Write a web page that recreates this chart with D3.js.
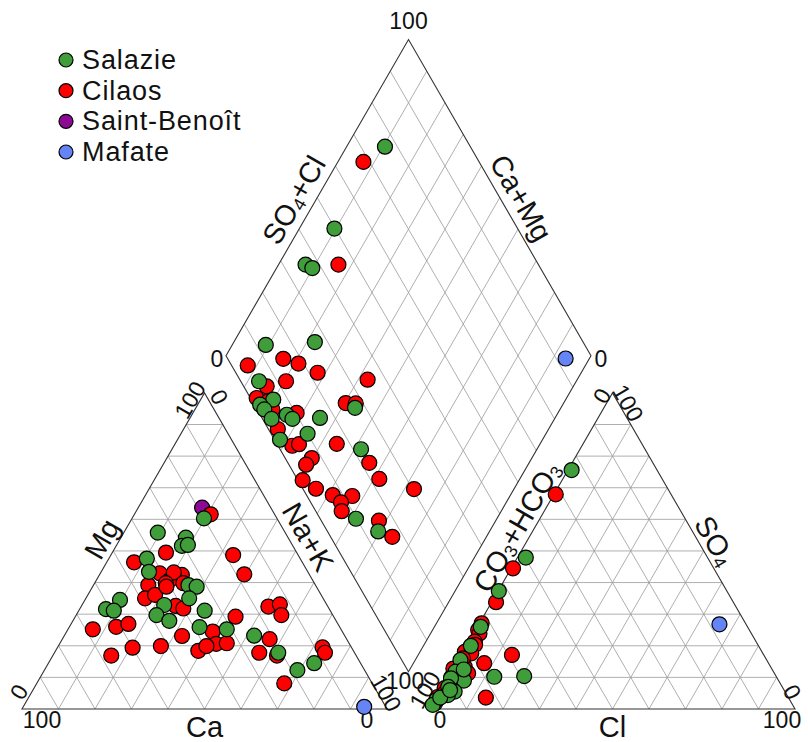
<!DOCTYPE html>
<html><head><meta charset="utf-8">
<script src="https://cdn.jsdelivr.net/npm/d3@7"></script>
<style>
body{margin:0;background:#fff}
text{font-family:"Liberation Sans",Arial,sans-serif;fill:#111}
</style>
</head><body>
<svg id="chart" width="808" height="742"></svg>
<script>
// ---------------- DATA ----------------
const groups = ["Salazie", "Cilaos", "Saint-Benoît", "Mafate"];
const groupColors = ["#3f9d3a", "#ff0000", "#8e0a96", "#6585f7"];

// Cation triangle: [Mg %, Na+K %]
const cationSalazie = [[55.8,9.3],[54.2,17.8],[51.6,18.0],[51.9,19.5],[60.3,19.7],[47.6,10.4],[43.4,13.1],[39.2,26.0],[38.7,28.5],[35.0,28.3],[32.9,22.5],[29.7,22.0],[27.9,26.4],[31.1,34.5],[34.5,9.6],[31.6,7.2],[31.1,9.6],[25.9,35.7],[25.2,43.5],[23.2,52.0],[17.8,61.3],[14.5,72.8],[12.3,69.3]];
const cationCilaos = [[61.6,20.9],[49.5,14.7],[48.7,33.5],[42.6,39.6],[46.4,7.5],[42.9,16.3],[40.8,20.1],[42.4,22.6],[43.2,20.0],[39.8,19.5],[39.8,24.3],[39.2,15.0],[35.0,16.2],[36.1,18.4],[38.7,20.2],[32.6,25.8],[31.8,28.3],[29.2,43.9],[32.4,51.3],[33.1,54.1],[29.7,56.2],[25.2,6.8],[26.0,12.8],[26.9,15.7],[16.9,16.0],[19.4,20.6],[19.9,28.1],[23.1,32.3],[24.5,40.0],[20.6,42.9],[20.8,45.7],[18.4,39.1],[19.9,40.6],[22.1,56.8],[17.8,56.1],[16.9,61.4],[19.5,72.6],[17.8,74.1],[8.1,67.8]];
const cationSaintBenoit = [[63.7,17.5]];
const cationMafate = [[0.7,93.4]];

// Anion triangle: [SO4 %, Cl %]
const anionSalazie = [[75.6,1.0],[47.9,2.3],[37.3,0.2],[26.0,0.9],[15.5,0.6],[11.8,1.1],[9.0,4.8],[5.5,4.0],[1.8,0.5],[10.2,12.5],[10.4,20.6],[9.7,0.9],[4.4,2.7],[2.8,0.3],[1.3,0.1],[3.6,1.0],[7.0,1.5],[6.0,2.5],[12.5,3.0],[20.0,1.2]];
const anionCilaos = [[67.9,0.5],[44.5,0.5],[33.8,1.2],[27.1,0.6],[25.0,0.7],[23.9,1.6],[21.3,1.6],[20.3,2.2],[18.1,0.5],[17.6,2.5],[13.4,2.8],[11.3,4.8],[12.8,0.0],[6.6,0.7],[3.8,0.2],[14.5,7.6],[17.1,13.9],[3.6,13.5],[16.0,1.0],[8.0,2.0],[5.0,1.5]];
const anionSaintBenoit = [[10.0,0.8]];
const anionMafate = [[26.8,65.9]];

// Diamond: [Ca+Mg %, SO4+Cl %]
const diamondSalazie = [[90.8,12.6],[77.8,26.5],[86.9,5.0],[80.1,6.0],[82.9,1.6],[81.0,2.0],[77.5,2.5],[74.0,7.3],[71.8,8.2],[64.4,15.9],[65.3,10.0],[71.9,1.5],[56.4,27.1],[48.2,22.2],[38.6,9.8],[30.5,13.9],[89.5,76.6],[90.4,49.8],[92.6,36.2],[90.2,37.5]];
const diamondCilaos = [[92.5,4.4],[83.8,15.2],[78.9,18.6],[72.2,22.4],[79.5,12.4],[57.4,35.0],[84.0,6.3],[84.9,1.7],[81.2,4.4],[78.8,4.2],[71.6,10.3],[74.2,2.6],[67.6,3.9],[66.0,6.0],[55.7,16.4],[59.7,25.3],[56.9,28.0],[60.3,7.3],[60.8,4.7],[43.8,22.3],[38.5,22.5],[59.3,1.3],[54.3,3.6],[27.4,30.4],[48.7,7.2],[43.2,12.4],[45.3,8.3],[43.7,7.1],[32.0,15.8],[25.8,16.9],[93.0,68.3],[83.6,45.2]];
const diamondSaintBenoit = [];
const diamondMafate = [[6.5,92.6]];

const tickLabels = ["0", "100"];
const cationAxisNames = ["Ca", "Mg", "Na+K"];
const anionAxisNames = ["Cl", "CO3+HCO3", "SO4"];
const diamondAxisNames = ["SO4+Cl", "Ca+Mg"];

// ---------------- LAYOUT ----------------
const SIDE = 365, BASE = 709, X0 = 22, GAP = 43, S60 = Math.sqrt(3) / 2, R = 7.5;
const frac = d3.scaleLinear().domain([0, 100]).range([0, 1]);
const gridSteps = d3.range(10, 100, 10);

const cat = { A: [X0, BASE], B: [X0 + SIDE, BASE], C: [X0 + SIDE / 2, BASE - SIDE * S60] };
const an  = { A: [X0 + SIDE + GAP, BASE], B: [X0 + 2 * SIDE + GAP, BASE], C: [X0 + 1.5 * SIDE + GAP, BASE - SIDE * S60] };
const dB = [X0 + SIDE + GAP / 2, BASE - GAP * S60];
const dL = [dB[0] - SIDE / 2, dB[1] - SIDE * S60];
const dR = [dB[0] + SIDE / 2, dB[1] - SIDE * S60];
const dT = [dB[0], dB[1] - 2 * SIDE * S60];

const lerp = (p, q, t) => [p[0] + (q[0] - p[0]) * t, p[1] + (q[1] - p[1]) * t];
const tern = (T, a, b, c) => [T.A[0] * a + T.B[0] * b + T.C[0] * c, T.A[1] * a + T.B[1] * b + T.C[1] * c];
const cationPos = d => { const mg = frac(d[0]), nk = frac(d[1]); return tern(cat, 1 - mg - nk, nk, mg); };
const anionPos = d => { const so4 = frac(d[0]), cl = frac(d[1]); return tern(an, 1 - so4 - cl, cl, so4); };
const diamondPos = d => { const cm = frac(d[0]), sc = frac(d[1]);
  return [dB[0] + cm * (dL[0] - dB[0]) + sc * (dR[0] - dB[0]), dB[1] + cm * (dL[1] - dB[1]) + sc * (dR[1] - dB[1])]; };

const svg = d3.select("#chart");
const gGrid = svg.append("g").attr("stroke", "#9a9a9a").attr("stroke-width", 0.8).attr("fill", "none");
const gFrame = svg.append("g").attr("stroke", "#333").attr("stroke-width", 1.1).attr("fill", "none");
const gText = svg.append("g");
const gPts = svg.append("g");

function segs(g, list) {
  g.selectAll(null).data(list).join("line")
    .attr("x1", d => d[0][0]).attr("y1", d => d[0][1])
    .attr("x2", d => d[1][0]).attr("y2", d => d[1][1]);
}

// Triangle grids
[cat, an].forEach(T => {
  const lines = [];
  gridSteps.forEach(v => {
    const t = frac(v);
    lines.push([lerp(T.A, T.C, t), lerp(T.B, T.C, t)]);
    lines.push([lerp(T.A, T.B, t), lerp(T.B, T.C, 1 - t)]);
    lines.push([lerp(T.A, T.B, t), lerp(T.A, T.C, t)]);
  });
  segs(gGrid, lines);
  gFrame.append("path").attr("d", d3.line()([T.A, T.B, T.C]) + "Z");
});
// Diamond grid
{
  const lines = [];
  gridSteps.forEach(v => {
    const t = frac(v);
    lines.push([lerp(dB, dL, t), lerp(dR, dT, t)]);
    lines.push([lerp(dB, dR, t), lerp(dL, dT, t)]);
  });
  segs(gGrid, lines);
  gFrame.append("path").attr("d", d3.line()([dB, dL, dT, dR]) + "Z");
}

// ---------------- TEXT ----------------
function label(x, y, rot, str, size) {
  const t = gText.append("text")
    .attr("transform", `translate(${x},${y}) rotate(${rot})`)
    .attr("text-anchor", "middle").attr("dominant-baseline", "central")
    .attr("font-size", size);
  const numeric = /^\d+$/.test(str);
  if (numeric) { t.text(str); return t; }
  str.match(/[A-Za-z+\-]+|\d+/g).forEach((p, i, arr) => {
    const isSub = /^\d+$/.test(p);
    const prevSub = i > 0 && /^\d+$/.test(arr[i - 1]);
    const ts = t.append("tspan").text(p);
    if (isSub) ts.attr("font-size", size * 0.62).attr("dy", size * 0.24);
    else if (prevSub) ts.attr("dy", -size * 0.24);
  });
  return t;
}
const AX = 29, TK = 23;
// cation
label(cat.C[0], 727, 0, cationAxisNames[0], AX);
label(102, 539, -60, cationAxisNames[1], AX);
label(308, 537, 60, cationAxisNames[2], AX);
label(42, 720, 0, tickLabels[1], TK);
label(367, 720, 0, tickLabels[0], TK);
label(19, 692, -60, tickLabels[0], TK);
label(190, 400, -60, tickLabels[1], TK);
label(219, 397, 60, tickLabels[0], TK);
label(386, 693, 60, tickLabels[1], TK);
// anion
label(an.C[0], 727, 0, anionAxisNames[0], AX);
label(517, 527, -60, anionAxisNames[1], AX);
label(715, 541, 60, anionAxisNames[2], AX);
label(440, 720, 0, tickLabels[0], TK);
label(782, 720, 0, tickLabels[1], TK);
label(425, 690, -60, tickLabels[1], TK);
label(602, 396, -60, tickLabels[0], TK);
label(628, 403, 60, tickLabels[1], TK);
label(792, 692, 60, tickLabels[0], TK);
// diamond
label(294, 200, -60, diamondAxisNames[0], AX);
label(521, 198, 60, diamondAxisNames[1], AX);
label(217, 359, 0, tickLabels[0], TK);
label(601, 359, 0, tickLabels[0], TK);
label(dT[0], 21, 0, tickLabels[1], TK);
label(405, 681, 0, tickLabels[1], TK);

// ---------------- POINTS ----------------
const panels = [
  [cationPos, [cationSalazie, cationCilaos, cationSaintBenoit, cationMafate]],
  [anionPos, [anionSalazie, anionCilaos, anionSaintBenoit, anionMafate]],
  [diamondPos, [diamondSalazie, diamondCilaos, diamondSaintBenoit, diamondMafate]]
];
const drawOrder = [2, 3, 1, 0];
panels.forEach(([pos, sets]) => {
  drawOrder.forEach(gi => {
    gPts.append("g").selectAll("circle").data(sets[gi]).join("circle")
      .attr("cx", d => pos(d)[0]).attr("cy", d => pos(d)[1]).attr("r", R)
      .attr("fill", groupColors[gi]).attr("stroke", "#000").attr("stroke-width", 1.2);
  });
});

// ---------------- LEGEND ----------------
const ly = d3.scalePoint().domain(groups).range([60, 152]);
const leg = svg.append("g");
leg.selectAll("circle").data(groups).join("circle")
  .attr("cx", 66).attr("cy", d => ly(d)).attr("r", 7)
  .attr("fill", (d, i) => groupColors[i]).attr("stroke", "#000").attr("stroke-width", 1.2);
leg.selectAll("text").data(groups).join("text")
  .attr("x", 82).attr("y", d => ly(d)).attr("dominant-baseline", "central")
  .attr("font-size", 27).attr("letter-spacing", 0.9).text(d => d);
</script>
</body></html>
